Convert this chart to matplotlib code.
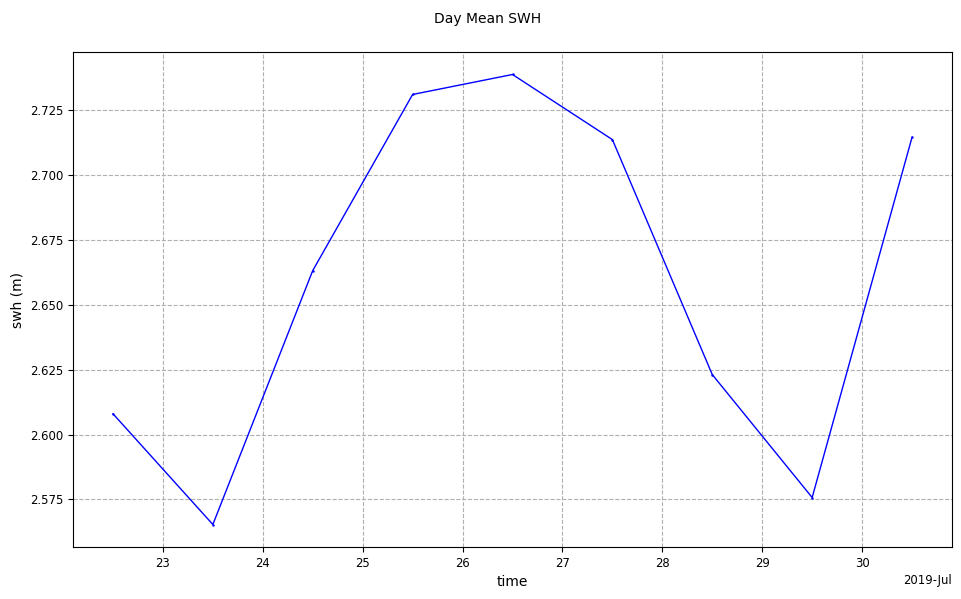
import matplotlib
matplotlib.use("Agg")
import matplotlib.pyplot as plt
import matplotlib.dates as mdates
import numpy as np
import pandas as pd

times = pd.date_range("2019-07-22 12:00", "2019-07-30 12:00", freq="D")
swh = [2.6080, 2.5653, 2.6632, 2.7311, 2.7388, 2.7137, 2.6231, 2.5757, 2.7146]

fig = plt.figure(figsize=(9.62, 5.99), dpi=100)
ax = fig.add_axes([0.0759, 0.0868, 0.9137, 0.8264])
ax.plot(times, swh, color="blue", linewidth=1, marker=".", markersize=1.5)
locator = mdates.AutoDateLocator()
ax.xaxis.set_major_locator(locator)
ax.xaxis.set_major_formatter(mdates.ConciseDateFormatter(locator))
ax.yaxis.set_major_formatter(matplotlib.ticker.FormatStrFormatter("%.3f"))
ax.tick_params(labelsize="small")
ax.xaxis.get_offset_text().set_fontsize("small")
ax.grid(True, linestyle="--", color="#b0b0b0", linewidth=0.8)
ax.set_xlabel("time")
ax.set_ylabel("swh (m)")
fig.suptitle("Day Mean SWH", fontsize=10, x=0.507)
fig.savefig("out.png", dpi=100)
